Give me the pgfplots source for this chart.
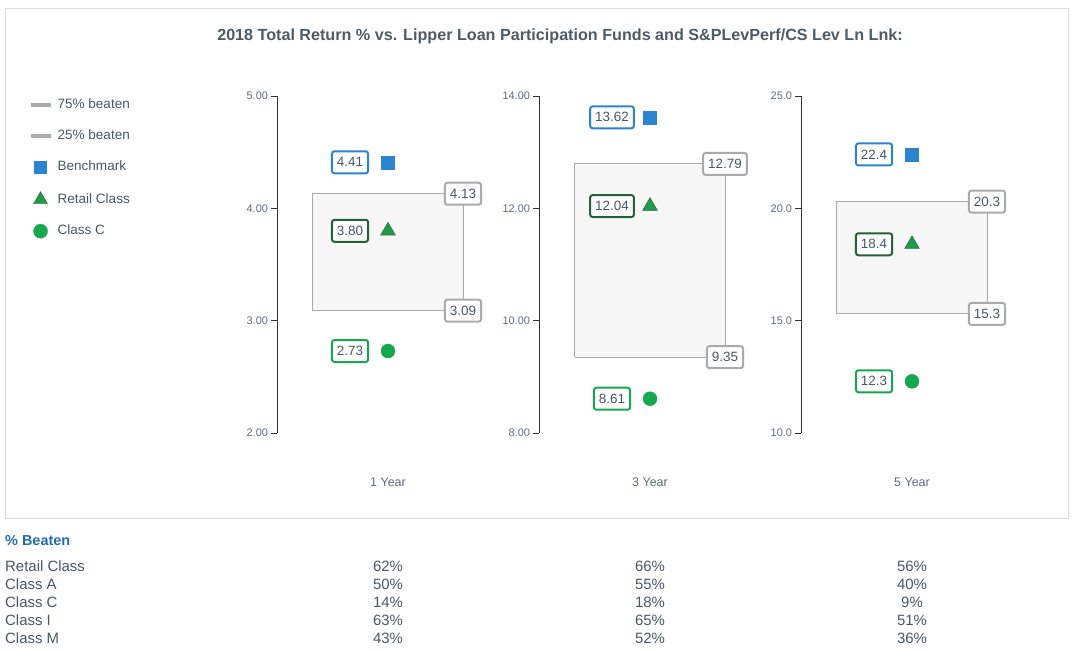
\documentclass[border=0pt]{standalone}
\usepackage{pgfplots}
\pgfplotsset{compat=1.18}
\usepackage{fontspec}
\setmainfont{Liberation Sans}
\definecolor{titlec}{HTML}{4D5B69}
\definecolor{tickc}{HTML}{5F6B7A}
\definecolor{textc}{HTML}{4A5666}
\definecolor{bench}{HTML}{2A84D0}
\definecolor{retail}{HTML}{1E9A48}
\definecolor{retailedge}{HTML}{24603A}
\definecolor{classc}{HTML}{16A84E}
\definecolor{boxgray}{HTML}{AAAAAA}
\definecolor{boxfill}{HTML}{F7F7F7}
\definecolor{framec}{HTML}{DDDDDD}
\definecolor{headc}{HTML}{1F6DB3}
\tikzset{lab/.style={draw=#1, line width=2bp, rounded corners=2.5bp, fill=white, text=textc,
  font=\fontsize{13.5}{15}\selectfont, inner xsep=5bp, inner ysep=3bp, minimum height=22bp}}
\pgfplotsset{
 panel/.style={
  scale only axis, width=222bp, height=337bp,
  xmin=0, xmax=2,
  axis x line=none, axis y line=left,
  axis line style={draw=black!80, line width=0.8bp, -},
  tick align=outside, major tick length=6bp,
  tick style={black!80, line width=0.8bp},
  yticklabel style={font=\fontsize{11}{13}\selectfont, text=tickc, xshift=0.5bp,
    /pgf/number format/assume math mode=true,
    /pgf/number format/fixed, /pgf/number format/fixed zerofill},
  clip=false, anchor=south west,
 },
}
\begin{document}
\begin{tikzpicture}
\useasboundingbox (0,0) rectangle (1074bp,-652bp);
\draw[framec, line width=1bp] (5bp,-8bp) rectangle (1068bp,-518bp);
\node[font=\bfseries\fontsize{16.2}{19}\selectfont, text=titlec] at (560bp,-36bp)
 {2018 Total Return \% vs. Lipper Loan Participation Funds and S\&PLevPerf/CS Lev Ln Lnk:};

% ---- 1 Year
\begin{axis}[panel, at={(277bp,-433bp)}, ymin=2, ymax=5, ytick={2,3,4,5},
  yticklabel style={/pgf/number format/precision=2},
  legend cell align=left,
  legend style={at={(-1.12,0.9926)}, anchor=north west, draw=none, fill=none,
    inner sep=0pt, font=\fontsize{13.6}{15}\selectfont, text=textc,
    nodes={inner sep=0pt, text height=10bp, text depth=3bp},
    row sep=18bp, column sep=5bp}]
\addlegendimage{legend image code/.code={\draw[line width=4bp, boxgray] (0.3cm-10bp,0) -- (0.3cm+10bp,0);}}
\addlegendentry{75\% beaten}
\addlegendimage{legend image code/.code={\draw[line width=4bp, boxgray] (0.3cm-10bp,0) -- (0.3cm+10bp,0);}}
\addlegendentry{25\% beaten}
\addlegendimage{only marks, mark=square*, mark size=6bp, color=bench}
\addlegendentry{Benchmark}
\addlegendimage{only marks, mark=triangle*, mark size=8bp, draw=retailedge, fill=retail}
\addlegendentry{Retail Class}
\addlegendimage{only marks, mark=*, mark size=7bp, color=classc}
\addlegendentry{Class C}
\addplot[forget plot, draw=boxgray, fill=boxfill, line width=1bp] coordinates {(0.324,3.09) (1.676,3.09) (1.676,4.13) (0.324,4.13) (0.324,3.09)};
\addplot[forget plot, only marks, mark=square*, mark size=6.5bp, color=bench] coordinates {(1,4.41)};
\addplot[forget plot, only marks, mark=triangle*, mark size=8.5bp, draw=retailedge, fill=retail] coordinates {(1,3.80)};
\addplot[forget plot, only marks, mark=*, mark size=7bp, color=classc] coordinates {(1,2.73)};
\node[lab=bench] at (axis cs:0.658,4.41) {4.41};
\node[lab=retailedge] at (axis cs:0.658,3.80) {3.80};
\node[lab=classc] at (axis cs:0.658,2.73) {2.73};
\node[lab=boxgray] at (axis cs:1.676,4.13) {4.13};
\node[lab=boxgray] at (axis cs:1.676,3.09) {3.09};
\node[font=\fontsize{12.5}{14}\selectfont, text=tickc] at (axis cs:1,2) [yshift=-49bp] {1 Year};
\end{axis}

% ---- 3 Year
\begin{axis}[panel, at={(539bp,-433bp)}, ymin=8, ymax=14, ytick={8,10,12,14},
  yticklabel style={/pgf/number format/precision=2}]
\addplot[draw=boxgray, fill=boxfill, line width=1bp] coordinates {(0.324,9.35) (1.676,9.35) (1.676,12.79) (0.324,12.79) (0.324,9.35)};
\addplot[only marks, mark=square*, mark size=6.5bp, color=bench] coordinates {(1,13.62)};
\addplot[only marks, mark=triangle*, mark size=8.5bp, draw=retailedge, fill=retail] coordinates {(1,12.04)};
\addplot[only marks, mark=*, mark size=7bp, color=classc] coordinates {(1,8.61)};
\node[lab=bench] at (axis cs:0.658,13.62) {13.62};
\node[lab=retailedge] at (axis cs:0.658,12.04) {12.04};
\node[lab=classc] at (axis cs:0.658,8.61) {8.61};
\node[lab=boxgray] at (axis cs:1.676,12.79) {12.79};
\node[lab=boxgray] at (axis cs:1.676,9.35) {9.35};
\node[font=\fontsize{12.5}{14}\selectfont, text=tickc] at (axis cs:1,8) [yshift=-49bp] {3 Year};
\end{axis}

% ---- 5 Year
\begin{axis}[panel, at={(801bp,-433bp)}, ymin=10, ymax=25, ytick={10,15,20,25},
  yticklabel style={/pgf/number format/precision=1}]
\addplot[draw=boxgray, fill=boxfill, line width=1bp] coordinates {(0.324,15.3) (1.676,15.3) (1.676,20.3) (0.324,20.3) (0.324,15.3)};
\addplot[only marks, mark=square*, mark size=6.5bp, color=bench] coordinates {(1,22.4)};
\addplot[only marks, mark=triangle*, mark size=8.5bp, draw=retailedge, fill=retail] coordinates {(1,18.4)};
\addplot[only marks, mark=*, mark size=7bp, color=classc] coordinates {(1,12.3)};
\node[lab=bench] at (axis cs:0.658,22.4) {22.4};
\node[lab=retailedge] at (axis cs:0.658,18.4) {18.4};
\node[lab=classc] at (axis cs:0.658,12.3) {12.3};
\node[lab=boxgray] at (axis cs:1.676,20.3) {20.3};
\node[lab=boxgray] at (axis cs:1.676,15.3) {15.3};
\node[font=\fontsize{12.5}{14}\selectfont, text=tickc] at (axis cs:1,10) [yshift=-49bp] {5 Year};
\end{axis}

% ---- table
\node[anchor=west, font=\bfseries\fontsize{14.5}{16}\selectfont, text=headc, inner sep=0pt] at (5bp,-541bp) {\% Beaten};
\foreach \name/\a/\b/\c [count=\i from 0] in {Retail Class/62/66/56, Class A/50/55/40, Class C/14/18/9, Class I/63/65/51, Class M/43/52/36}{
  \node[anchor=west, font=\fontsize{15}{16}\selectfont, text=textc, inner sep=0pt] at (5bp,-566bp-\i*18bp) {\name};
  \node[font=\fontsize{15}{16}\selectfont, text=textc, inner sep=0pt] at (388bp,-566bp-\i*18bp) {\a\%};
  \node[font=\fontsize{15}{16}\selectfont, text=textc, inner sep=0pt] at (650bp,-566bp-\i*18bp) {\b\%};
  \node[font=\fontsize{15}{16}\selectfont, text=textc, inner sep=0pt] at (912bp,-566bp-\i*18bp) {\c\%};
}
\end{tikzpicture}
\end{document}
